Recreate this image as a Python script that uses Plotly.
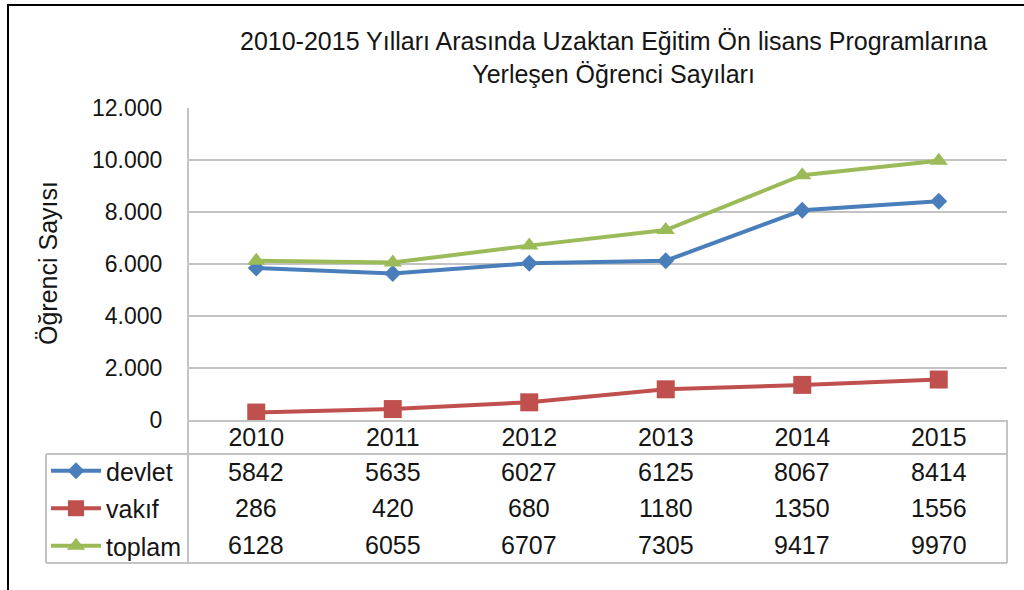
import plotly.graph_objects as go

# ---- data ----
years = ["2010", "2011", "2012", "2013", "2014", "2015"]
devlet = [5842, 5635, 6027, 6125, 8067, 8414]
vakif = [286, 420, 680, 1180, 1350, 1556]
toplam = [6128, 6055, 6707, 7305, 9417, 9970]
series_names = ["devlet", "vakıf", "toplam"]
title_text = "2010-2015 Yılları Arasında Uzaktan Eğitim Ön lisans Programlarına<br>Yerleşen Öğrenci Sayıları"
y_title = "Öğrenci Sayısı"

W, H = 1024, 590
def px(x):
    return x / W
def py(y):
    return 1 - y / H

FONT = "Liberation Sans, Arial, sans-serif"
GRID = "#c3c3c3"
TXT = "#151515"
colors = {"devlet": "#4a7ebb", "vakıf": "#c0504d", "toplam": "#9bbb59"}
symbols = {"devlet": "diamond", "vakıf": "square", "toplam": "triangle-up"}
msize = {"devlet": 13, "vakıf": 18, "toplam": 16}

fig = go.Figure()
for name, vals in zip(series_names, [devlet, vakif, toplam]):
    fig.add_trace(go.Scatter(
        x=years, y=vals, name=name, mode="lines+markers",
        legendgroup=name,
        line=dict(color=colors[name], width=4),
        marker=dict(symbol=symbols[name], size=msize[name], color=colors[name]),
    ))

annotations = []
# title
annotations.append(dict(text=title_text, x=px(613), y=py(57), xref="paper", yref="paper",
                        xanchor="center", yanchor="middle", showarrow=False,
                        font=dict(family=FONT, size=25, color=TXT)))
# y title
annotations.append(dict(text=y_title, x=px(48), y=py(263), xref="paper", yref="paper",
                        textangle=-90, xanchor="center", yanchor="middle", showarrow=False,
                        font=dict(family=FONT, size=25, color=TXT)))
# data table values
row_y = [472, 508, 545]
for vals, ry in zip([devlet, vakif, toplam], row_y):
    for i, v in enumerate(vals):
        annotations.append(dict(text=str(v), x=i, xref="x", y=py(ry), yref="paper",
                                xanchor="center", yanchor="middle", showarrow=False,
                                font=dict(family=FONT, size=25, color=TXT)))

line_style = dict(color=GRID, width=2)
shapes = [
    # table borders
    dict(type="line", xref="paper", yref="paper", x0=px(46), x1=px(1007), y0=py(454), y1=py(454), line=line_style),
    dict(type="line", xref="paper", yref="paper", x0=px(46), x1=px(1007), y0=py(563), y1=py(563), line=line_style),
    dict(type="line", xref="paper", yref="paper", x0=px(46), x1=px(46), y0=py(454), y1=py(563), line=line_style),
    dict(type="line", xref="paper", yref="paper", x0=px(188), x1=px(188), y0=py(108), y1=py(563), line=line_style),
    dict(type="line", xref="paper", yref="paper", x0=px(1007), x1=px(1007), y0=py(420), y1=py(563), line=line_style),
    # outer black frame
    dict(type="line", xref="paper", yref="paper", x0=px(7), x1=px(1024), y0=py(5), y1=py(5), line=dict(color="black", width=2)),
    dict(type="line", xref="paper", yref="paper", x0=px(8), x1=px(8), y0=py(5), y1=py(590), line=dict(color="black", width=2)),
]

fig.update_layout(
    width=W, height=H, autosize=False,
    margin=dict(l=0, r=0, t=0, b=0, autoexpand=False),
    paper_bgcolor="white", plot_bgcolor="white",
    separators=",.",
    font=dict(family=FONT, size=20, color=TXT),
    showlegend=True,
    legend=dict(x=px(46), y=py(448), xanchor="left", yanchor="top",
                tracegroupgap=2, itemwidth=50, bgcolor="rgba(0,0,0,0)",
                font=dict(family=FONT, size=25, color=TXT)),
    annotations=annotations,
    shapes=shapes,
    xaxis=dict(type="category", domain=[px(188), px(1007)], range=[-0.5, 5.5],
               showgrid=False, showline=True, linecolor=GRID, linewidth=2,
               ticks="", ticklabelstandoff=-6,
               tickfont=dict(family=FONT, size=25, color=TXT)),
    yaxis=dict(domain=[py(420), py(108)], range=[0, 12000], dtick=2000,
               tickformat=",.0f", showgrid=True, gridcolor=GRID, gridwidth=2,
               zeroline=False, showline=False,
               ticks="outside", ticklen=20, tickcolor="rgba(0,0,0,0)",
               tickfont=dict(family=FONT, size=23, color=TXT)),
)

fig.write_html("out.html", config={"displayModeBar": False},
               post_script="document.body.style.margin='0';document.body.style.overflow='hidden';")
